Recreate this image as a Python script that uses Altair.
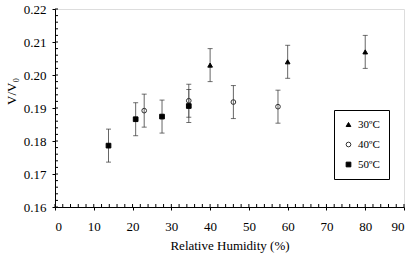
import altair as alt
import pandas as pd

series = ["30ºC", "40ºC", "50ºC"]
rh_30 = [40, 60, 80]
v_30 = [0.2030, 0.2040, 0.2070]
rh_40 = [23, 34.5, 46, 57.5]
v_40 = [0.1892, 0.1922, 0.1918, 0.1904]
rh_50 = [13.8, 20.8, 27.6, 34.5]
v_50 = [0.1786, 0.1866, 0.1874, 0.1906]
err = 0.005

x_major = list(range(0, 91, 10))
y_major = [0.16, 0.17, 0.18, 0.19, 0.20, 0.21, 0.22]
x_minor = list(range(0, 91, 2))
y_minor = [round(0.16 + 0.002 * i, 3) for i in range(31)]

rows = []
for name, xs_, ys_ in zip(series, [rh_30, rh_40, rh_50], [v_30, v_40, v_50]):
    for x, y in zip(xs_, ys_):
        rows.append({"series": name, "rh": x, "v": y, "lo": y - err, "hi": y + err})
df = pd.DataFrame(rows)

FONT = "Liberation Serif, Times New Roman, Times, serif"
xs = alt.Scale(domain=[0, 90], nice=False)
ys = alt.Scale(domain=[0.16, 0.22], nice=False)

XAX = alt.Axis(values=x_major, tickSize=3, labelPadding=10, titlePadding=6, grid=False)
YAX = alt.Axis(values=y_major, format=".2f", tickSize=3, labelPadding=6, grid=False,
               titleY=82, titleX=-44, titleAngle=270, titleAlign="center",
               titleBaseline="middle")
XT = "Relative Humidity (%)"
YT = "V/V₀"


def X(f):
    return alt.X(f, scale=xs, axis=XAX, title=XT)


def Y(f):
    return alt.Y(f, scale=ys, axis=YAX, title=YT)


base = alt.Chart(df)

bars = base.mark_rule(color="#666666", strokeWidth=1).encode(
    x=X("rh:Q"), y=Y("lo:Q"), y2="hi:Q")
cap_lo = base.mark_tick(color="#333333", orient="horizontal", size=5, thickness=1).encode(
    x=X("rh:Q"), y=Y("lo:Q"))
cap_hi = base.mark_tick(color="#333333", orient="horizontal", size=5, thickness=1).encode(
    x=X("rh:Q"), y=Y("hi:Q"))

pts = base.mark_point(size=22, strokeWidth=1, opacity=1).encode(
    x=X("rh:Q"),
    y=Y("v:Q"),
    shape=alt.Shape("series:N", scale=alt.Scale(domain=series, range=["triangle-up", "circle", "square"]),
                    title=None),
    fill=alt.Fill("series:N", scale=alt.Scale(domain=series, range=["#000000", "transparent", "#000000"]),
                  title=None),
    stroke=alt.Stroke("series:N", scale=alt.Scale(domain=series, range=["#000000", "#333333", "#000000"]),
                      title=None),
)

xminor_df = pd.DataFrame({"t": x_minor})
yminor_df = pd.DataFrame({"t": y_minor})
xticks_in = alt.Chart(xminor_df).mark_rule(color="black", strokeWidth=1).encode(
    x=X("t:Q"), y=alt.value(198), y2=alt.value(195))
yticks_in = alt.Chart(yminor_df).mark_rule(color="black", strokeWidth=1).encode(
    y=Y("t:Q"), x=alt.value(0), x2=alt.value(3))

chart = alt.layer(bars, cap_lo, cap_hi, xticks_in, yticks_in, pts).properties(
    width=349, height=198,
    autosize=alt.AutoSizeParams(type="none"),
    padding={"left": 55, "top": 9, "right": 9, "bottom": 48},
).configure_view(stroke="black", strokeWidth=1).configure(font=FONT).configure_axis(
    domainColor="black", tickColor="black", labelColor="black", titleColor="black",
    labelFont=FONT, titleFont=FONT, labelFontSize=13, titleFontSize=13,
    titleFontWeight="normal",
).configure_legend(
    orient="none", legendX=279, legendY=101, strokeColor="black", fillColor="white",
    padding=9, rowPadding=8, labelFont=FONT, labelFontSize=11, labelColor="black",
    symbolSize=22, labelOffset=4, cornerRadius=0, symbolStrokeWidth=1,
)

chart.save("out.html", embed_options={"renderer": "svg", "actions": False})
